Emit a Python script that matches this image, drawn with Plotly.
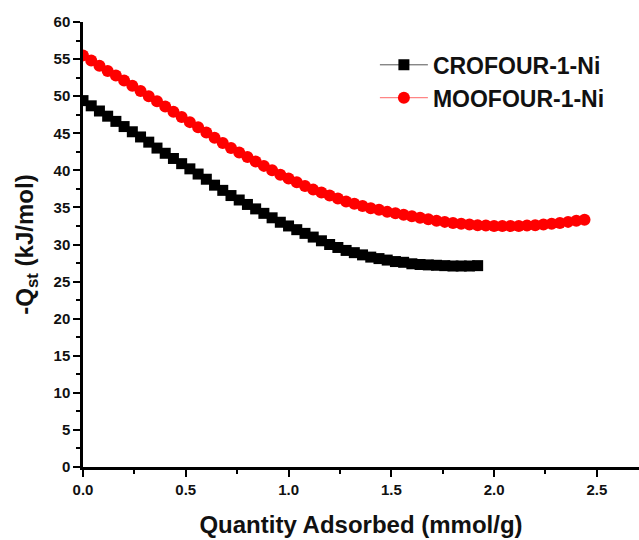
import plotly.graph_objects as go

cro_x = [0.00, 0.04, 0.08, 0.12, 0.16, 0.20, 0.24, 0.28, 0.32, 0.36, 0.40, 0.44, 0.48,
         0.52, 0.56, 0.60, 0.64, 0.68, 0.72, 0.76, 0.80, 0.84, 0.88, 0.92, 0.96, 1.00,
         1.04, 1.08, 1.12, 1.16, 1.20, 1.24, 1.28, 1.32, 1.36, 1.40, 1.44, 1.48, 1.52,
         1.56, 1.60, 1.64, 1.68, 1.72, 1.76, 1.80, 1.84, 1.88, 1.92]
cro_y = [49.4, 48.7, 48.0, 47.3, 46.6, 45.9, 45.2, 44.5, 43.8, 43.0, 42.3, 41.6, 40.9,
         40.2, 39.5, 38.8, 38.0, 37.3, 36.6, 36.0, 35.4, 34.8, 34.2, 33.6, 33.0, 32.5,
         32.0, 31.5, 31.0, 30.5, 30.0, 29.6, 29.2, 28.9, 28.6, 28.3, 28.1, 27.9, 27.7,
         27.6, 27.4, 27.3, 27.25, 27.2, 27.15, 27.1, 27.1, 27.1, 27.15]

moo_x = [0.00, 0.04, 0.08, 0.12, 0.16, 0.20, 0.24, 0.28, 0.32, 0.36, 0.40, 0.44, 0.48,
         0.52, 0.56, 0.60, 0.64, 0.68, 0.72, 0.76, 0.80, 0.84, 0.88, 0.92, 0.96, 1.00,
         1.04, 1.08, 1.12, 1.16, 1.20, 1.24, 1.28, 1.32, 1.36, 1.40, 1.44, 1.48, 1.52,
         1.56, 1.60, 1.64, 1.68, 1.72, 1.76, 1.80, 1.84, 1.88, 1.92, 1.96, 2.00, 2.04,
         2.08, 2.12, 2.16, 2.20, 2.24, 2.28, 2.32, 2.36, 2.40, 2.44]
moo_y = [55.5, 54.8, 54.1, 53.4, 52.8, 52.1, 51.4, 50.7, 50.0, 49.3, 48.6, 47.9, 47.2,
         46.5, 45.8, 45.1, 44.4, 43.7, 43.0, 42.4, 41.8, 41.2, 40.6, 40.0, 39.4, 38.9,
         38.4, 37.9, 37.4, 37.0, 36.6, 36.2, 35.8, 35.5, 35.2, 34.9, 34.7, 34.4, 34.2,
         34.0, 33.8, 33.6, 33.4, 33.2, 33.05, 32.9, 32.8, 32.7, 32.6, 32.55, 32.5, 32.5,
         32.5, 32.5, 32.55, 32.6, 32.7, 32.8, 32.9, 33.05, 33.2, 33.35]

series_names = ["CROFOUR-1-Ni", "MOOFOUR-1-Ni"]
x_ticks = [0.0, 0.5, 1.0, 1.5, 2.0, 2.5]
x_tick_labels = ["0.0", "0.5", "1.0", "1.5", "2.0", "2.5"]
y_ticks = [0, 5, 10, 15, 20, 25, 30, 35, 40, 45, 50, 55, 60]
y_tick_labels = ["0", "5", "10", "15", "20", "25", "30", "35", "40", "45", "50", "55", "60"]

FONT = "Liberation Sans, Arial, sans-serif"

fig = go.Figure()
fig.add_trace(go.Scatter(
    x=cro_x, y=cro_y, name=series_names[0], mode="lines+markers",
    line=dict(color="#555555", width=1),
    marker=dict(symbol="square", size=11, color="black"),
))
fig.add_trace(go.Scatter(
    x=moo_x, y=moo_y, name=series_names[1], mode="lines+markers",
    line=dict(color="#ff6666", width=1),
    marker=dict(symbol="circle", size=12, color="red"),
))

axis_common = dict(
    showline=True, linecolor="black", linewidth=2.5,
    ticks="outside", ticklen=7, tickwidth=2, tickcolor="black",
    showgrid=False, zeroline=False,
    tickfont=dict(family=FONT, size=15, color="#111111", weight="bold"),
)

fig.update_xaxes(
    range=[0, 2.705], tickmode="array", tickvals=x_ticks,
    ticktext=["<b>%s</b>" % t for t in x_tick_labels],
    minor=dict(dtick=0.25, ticks="outside", ticklen=4, tickwidth=2, tickcolor="black"),
    title=dict(text="Quantity Adsorbed (mmol/g)", standoff=20,
               font=dict(family=FONT, size=24, color="#111111", weight="bold")),
    **axis_common,
)
fig.update_yaxes(
    range=[0, 60], tickmode="array", tickvals=y_ticks,
    ticktext=["<b>%s</b>" % t for t in y_tick_labels],
    minor=dict(dtick=2.5, ticks="outside", ticklen=4, tickwidth=2, tickcolor="black"),
    title=dict(text="-Q<sub>st</sub> (kJ/mol)", standoff=14,
               font=dict(family=FONT, size=24, color="#111111", weight="bold")),
    **axis_common,
)

fig.update_layout(
    width=639, height=540,
    margin=dict(l=83, r=0, t=22, b=73),
    plot_bgcolor="white", paper_bgcolor="white",
    legend=dict(
        x=0.525, y=0.952, xanchor="left", yanchor="top",
        bgcolor="rgba(0,0,0,0)", itemwidth=48, tracegroupgap=0,
        font=dict(family=FONT, size=23, color="#111111", weight="bold"),
    ),
)

fig.write_html("out.html")
